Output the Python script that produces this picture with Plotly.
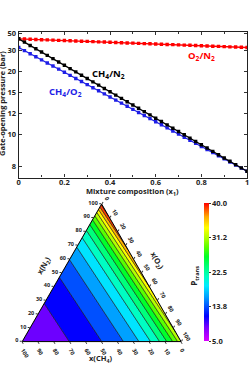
import plotly.graph_objects as go

# ---------------- data (top panel) ----------------
x_comp = [0.0, 0.025, 0.05, 0.075, 0.1, 0.125, 0.15, 0.175, 0.2, 0.225, 0.25, 0.275, 0.3, 0.325,
          0.35, 0.375, 0.4, 0.425, 0.45, 0.475, 0.5, 0.525, 0.55, 0.575, 0.6, 0.625, 0.65, 0.675,
          0.7, 0.725, 0.75, 0.775, 0.8, 0.825, 0.85, 0.875, 0.9, 0.925, 0.95, 0.975, 1.0]

p_ch4_n2 = [41.00, 37.03, 33.76, 31.02, 28.69, 26.69, 24.95, 23.42, 22.07, 20.86, 19.78, 18.81,
            17.93, 17.12, 16.39, 15.72, 15.10, 14.52, 13.99, 13.50, 13.04, 12.61, 12.20, 11.83,
            11.47, 11.14, 10.82, 10.52, 10.24, 9.975, 9.721, 9.480, 9.250, 9.032, 8.823, 8.624,
            8.434, 8.252, 8.078, 7.910, 7.750]

p_ch4_o2 = [32.00, 29.68, 27.67, 25.92, 24.37, 23.00, 21.78, 20.68, 19.68, 18.78, 17.95, 17.20,
            16.51, 15.87, 15.27, 14.72, 14.21, 13.73, 13.29, 12.87, 12.48, 12.11, 11.76, 11.43,
            11.12, 10.83, 10.55, 10.28, 10.03, 9.790, 9.561, 9.343, 9.134, 8.935, 8.744, 8.561,
            8.385, 8.217, 8.055, 7.900, 7.750]

p_o2_n2 = [41.00, 40.71, 40.43, 40.15, 39.88, 39.61, 39.34, 39.08, 38.82, 38.56, 38.31, 38.06,
           37.81, 37.57, 37.33, 37.09, 36.85, 36.62, 36.39, 36.17, 35.95, 35.72, 35.51, 35.29,
           35.08, 34.87, 34.66, 34.46, 34.26, 34.06, 33.86, 33.66, 33.47, 33.28, 33.09, 32.90,
           32.72, 32.54, 32.35, 32.18, 32.00]

x_tick_vals = [0, 0.2, 0.4, 0.6, 0.8, 1.0]
x_tick_text = ["0", "0.2", "0.4", "0.6", "0.8", "1"]
x_minor_vals = [0.1, 0.3, 0.5, 0.7, 0.9]
y_tick_labels = [8, 10, 12, 15, 20, 30, 50]

# ---------------- data (ternary panel) ----------------
# pure-component gate-opening pressures (bar)
p_pure_n2 = 41.0
p_pure_ch4 = 7.75
p_pure_o2 = 32.0
contour_levels = [7.5, 10, 12.5, 15, 17.5, 20, 22.5, 25, 27.5, 30, 32.5, 35, 37.5, 40, 42.5]
cbar_vals = [5.0, 13.75, 22.5, 31.25, 40.0]
cbar_text = ["5.0", "13.8", "22.5", "31.2", "40.0"]
c_min, c_max = 5.0, 40.0

colorscale = [
    [0.00, "rgb(220,0,255)"],
    [0.10, "rgb(120,0,255)"],
    [0.18, "rgb(0,0,255)"],
    [0.25, "rgb(0,80,255)"],
    [0.32, "rgb(0,160,255)"],
    [0.40, "rgb(0,235,255)"],
    [0.47, "rgb(0,255,190)"],
    [0.54, "rgb(0,255,120)"],
    [0.61, "rgb(0,255,40)"],
    [0.68, "rgb(90,255,0)"],
    [0.75, "rgb(180,255,0)"],
    [0.82, "rgb(255,255,0)"],
    [0.90, "rgb(255,170,0)"],
    [1.00, "rgb(255,0,0)"],
]

FONT = "Open Sans"
TXT = "#222"


def parse_rgb(s):
    return [float(v) for v in s[s.index("(") + 1:s.index(")")].split(",")]


def color_at(v):
    t = min(max((v - c_min) / (c_max - c_min), 0.0), 1.0)
    for (t0, c0), (t1, c1) in zip(colorscale[:-1], colorscale[1:]):
        if t0 <= t <= t1:
            f = 0 if t1 == t0 else (t - t0) / (t1 - t0)
            a, b = parse_rgb(c0), parse_rgb(c1)
            return "rgb(%d,%d,%d)" % tuple(round(a[i] + f * (b[i] - a[i])) for i in range(3))
    return colorscale[-1][1]


def inv_p(pt):
    a, b, c = pt
    return a / p_pure_n2 + b / p_pure_ch4 + c / p_pure_o2


def clip(poly, thr, keep_ge):
    out = []
    n = len(poly)
    for i in range(n):
        p, q = poly[i], poly[(i + 1) % n]
        fp, fq = inv_p(p) - thr, inv_p(q) - thr
        if not keep_ge:
            fp, fq = -fp, -fq
        if fp >= 0:
            out.append(p)
        if (fp >= 0) != (fq >= 0):
            s = fp / (fp - fq)
            out.append(tuple(p[k] + s * (q[k] - p[k]) for k in range(3)))
    return out


fig = go.Figure()

# ---------------- top panel ----------------
series = [(p_o2_n2, "red"), (p_ch4_o2, "rgb(30,30,230)"), (p_ch4_n2, "black")]
for vals, col in series:
    fig.add_trace(go.Scatter(
        x=x_comp, y=[1.0 / v for v in vals], mode="lines+markers",
        line=dict(color=col, width=1.3),
        marker=dict(symbol="square", size=3.4, color=col),
        showlegend=False, hoverinfo="skip", xaxis="x", yaxis="y"))

# ---------------- ternary bands ----------------
tri = [(1.0, 0.0, 0.0), (0.0, 1.0, 0.0), (0.0, 0.0, 1.0)]
for lo, hi in zip(contour_levels[:-1], contour_levels[1:]):
    poly = clip(tri, 1.0 / hi, True)
    if poly:
        poly = clip(poly, 1.0 / lo, False)
    if len(poly) < 3:
        continue
    poly = poly + [poly[0]]
    fig.add_trace(go.Scatterternary(
        a=[100 * p[0] for p in poly], b=[100 * p[1] for p in poly], c=[100 * p[2] for p in poly],
        mode="lines", fill="toself", fillcolor=color_at(0.5 * (lo + hi)),
        line=dict(color="rgba(20,20,20,0.9)", width=0.6),
        showlegend=False, hoverinfo="skip", subplot="ternary"))

# colorbar carrier
fig.add_trace(go.Scatter(
    x=[0.5, 0.5], y=[0.05, 0.05], mode="markers",
    marker=dict(size=0.1, opacity=0, color=[c_min, c_max], cmin=c_min, cmax=c_max,
                colorscale=colorscale, showscale=True,
                colorbar=dict(x=205 / 251, xanchor="left", xpad=0, ypad=0,
                              y=1 - 271 / 365, yanchor="middle",
                              len=140 / 365, lenmode="fraction", thickness=5,
                              outlinewidth=0, tickvals=cbar_vals, ticktext=cbar_text,
                              ticks="outside", ticklen=2, tickcolor="#333",
                              tickfont=dict(size=7.5, family=FONT, color=TXT, weight="bold"))),
    showlegend=False, hoverinfo="skip", xaxis="x", yaxis="y"))

tern_axis = dict(showgrid=False, linecolor="black", linewidth=1, ticks="outside", ticklen=2,
                 tickcolor="#333", dtick=10, min=0, title=dict(text=""),
                 tickfont=dict(size=5.5, family=FONT, color=TXT, weight="bold"))

fig.update_layout(
    width=251, height=365, margin=dict(l=0, r=0, t=0, b=0),
    paper_bgcolor="white", plot_bgcolor="white", showlegend=False,
    font=dict(family=FONT, color=TXT),
    xaxis=dict(domain=[17 / 251, 249 / 251], range=[0, 1], tickvals=x_tick_vals, ticktext=x_tick_text,
               ticks="inside", ticklen=3, tickcolor="#333", showline=True, linecolor=TXT,
               linewidth=1.2, mirror="ticks", showgrid=False, zeroline=False, anchor="y",
               ticklabeloverflow="allow", ticklabelstandoff=-3,
               minor=dict(tickvals=x_minor_vals, ticks="inside", ticklen=2, tickcolor="#333"),
               tickfont=dict(size=7.5, family=FONT, color=TXT, weight="bold")),
    yaxis=dict(domain=[1 - 175.5 / 365, 1 - 28 / 365], range=[1 / 7.46, 1 / 53.3],
               tickvals=[1.0 / v for v in y_tick_labels], ticktext=[str(v) for v in y_tick_labels],
               ticks="inside", ticklen=3, tickcolor="#333", showline=True, linecolor=TXT,
               linewidth=1.2, mirror="ticks", showgrid=False, zeroline=False, anchor="x",
               ticklabeloverflow="allow",
               tickfont=dict(size=7.5, family=FONT, color=TXT, weight="bold")),
    ternary=dict(domain=dict(x=[20.5 / 251, 182 / 251], y=[1 - 341.5 / 365, 1 - 202 / 365]),
                 sum=100, bgcolor="rgba(0,0,0,0)",
                 aaxis=dict(tern_axis, tickangle=0),
                 baxis=dict(tern_axis, tickangle=60),
                 caxis=dict(tern_axis, tickangle=60)),
)

anns = [
    dict(x=108 / 251, y=1 - 71 / 365, text="CH<sub>4</sub>/N<sub>2</sub>", color="black", size=9.5, angle=0),
    dict(x=65 / 251, y=1 - 89 / 365, text="CH<sub>4</sub>/O<sub>2</sub>", color="rgb(30,30,230)", size=9.5, angle=0),
    dict(x=203 / 251, y=1 - 53 / 365, text="O<sub>2</sub>/N<sub>2</sub>", color="red", size=9.5, angle=0),
    dict(x=133 / 251, y=1 - 190 / 365, text="Mixture composition (x<sub>1</sub>)", color=TXT, size=7.5, angle=0),
    dict(x=0 / 251, y=1 - 101 / 365, text="Gate-opening pressure (bar)", color=TXT, size=7.5, angle=-90),
    dict(x=43 / 251, y=1 - 265 / 365, text="x(N<sub>2</sub>)", color=TXT, size=7.5, angle=-60),
    dict(x=157 / 251, y=1 - 260 / 365, text="x(O<sub>2</sub>)", color=TXT, size=7.5, angle=60),
    dict(x=100 / 251, y=1 - 359 / 365, text="x(CH<sub>4</sub>)", color=TXT, size=7.5, angle=0),
    dict(x=196 / 251, y=1 - 275 / 365, text="P<sub>trans</sub>", color=TXT, size=8, angle=-90),
]
for a in anns:
    fig.add_annotation(x=a["x"], y=a["y"], xref="paper", yref="paper", text=a["text"],
                       showarrow=False, textangle=a["angle"], xanchor="center", yanchor="middle",
                       font=dict(size=a["size"], color=a["color"], family=FONT, weight="bold"))

fig.write_html("out.html")
